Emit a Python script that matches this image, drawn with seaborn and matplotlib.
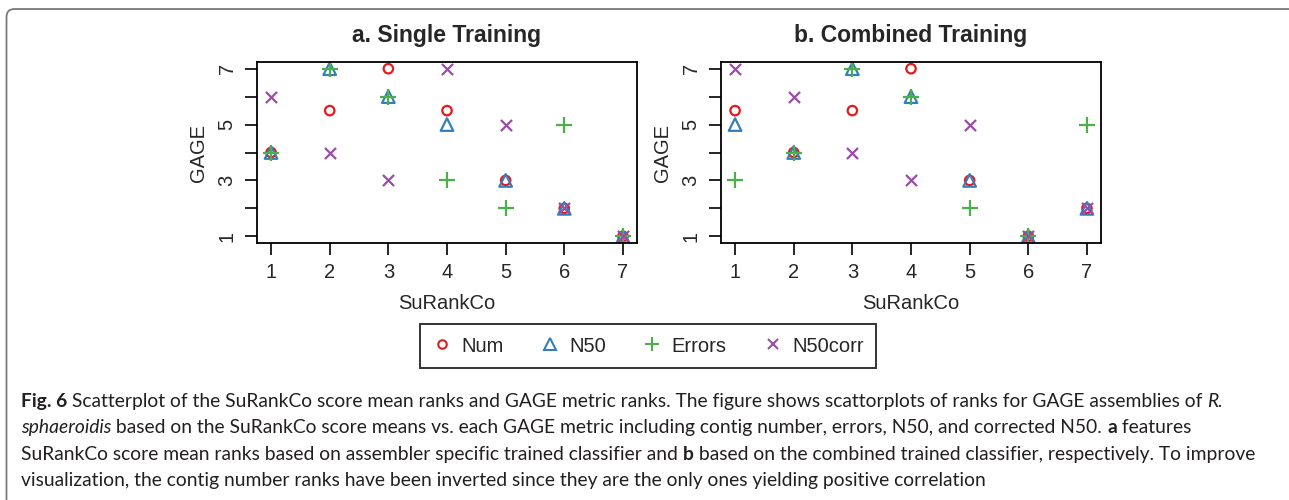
import matplotlib
matplotlib.use("Agg")
import matplotlib.pyplot as plt
import seaborn as sns
import pandas as pd
from matplotlib.patches import FancyBboxPatch

# ---------------- data ----------------
surankco = [1, 2, 3, 4, 5, 6, 7]
metrics = ["Num", "N50", "Errors", "N50corr"]

single_num = [4, 5.5, 7, 5.5, 3, 2, 1]
single_n50 = [4, 7, 6, 5, 3, 2, 1]
single_errors = [4, 7, 6, 3, 2, 5, 1]
single_n50corr = [6, 4, 3, 7, 5, 2, 1]

combined_num = [5.5, 4, 5.5, 7, 3, 1, 2]
combined_n50 = [5, 4, 7, 6, 3, 1, 2]
combined_errors = [3, 4, 7, 6, 2, 1, 5]
combined_n50corr = [7, 6, 4, 3, 5, 1, 2]

panel_titles = ["a. Single Training", "b. Combined Training"]
x_label = "SuRankCo"
y_label = "GAGE"
tick_values = [1, 2, 3, 4, 5, 6, 7]
ytick_labels = ["1", "", "3", "", "5", "", "7"]

# ---------------- style ----------------
sns.set_style("white")
plt.rcParams["font.family"] = ["Liberation Sans", "DejaVu Sans"]

colors = {"Num": "#E41A1C", "N50": "#377EB8", "Errors": "#4DAF4A", "N50corr": "#984EA3"}
markers = {"Num": "o", "N50": "^", "Errors": "+", "N50corr": "x"}
sizes = {"Num": 46, "N50": 82, "Errors": 120, "N50corr": 64}
filled = {"Num": True, "N50": True, "Errors": False, "N50corr": False}

W, H = 1289, 500
fig = plt.figure(figsize=(W / 100, H / 100), dpi=100)

# outer rounded frame
frame = FancyBboxPatch((0.065, -0.6), 13.2, 4.91 + 0.6,
                       boxstyle="round,pad=0,rounding_size=0.08",
                       transform=fig.dpi_scale_trans, fill=False,
                       edgecolor="#7a7a7a", linewidth=1.3)
fig.patches.append(frame)

def px_axes(left, right, top, bottom):
    return fig.add_axes([left / W, 1 - bottom / H, (right - left) / W, (bottom - top) / H])

panels = [
    (px_axes(257, 637, 62, 243), [single_num, single_n50, single_errors, single_n50corr]),
    (px_axes(721, 1101, 62, 243), [combined_num, combined_n50, combined_errors, combined_n50corr]),
]

fs = 14.5
for (ax, series), title in zip(panels, panel_titles):
    for name, vals in zip(metrics, series):
        df = pd.DataFrame({"SuRankCo": surankco, "GAGE": vals})
        if filled[name]:
            kw = dict(facecolor="none", edgecolor=colors[name])
        else:
            kw = dict(color=colors[name])
        sns.scatterplot(data=df, x="SuRankCo", y="GAGE", ax=ax,
                        marker=markers[name], s=sizes[name],
                        linewidth=1.6, label=name, legend=False, **kw)
    ax.set_xlim(0.76, 7.24)
    ax.set_ylim(0.76, 7.24)
    ax.set_xticks(tick_values)
    ax.set_xticklabels([str(v) for v in tick_values])
    ax.set_yticks(tick_values)
    ax.set_yticklabels(ytick_labels, rotation=90, va="center")
    ax.tick_params(bottom=True, left=True, direction="out", length=8.7,
                   width=1.2, color="black", labelsize=fs, pad=6)
    for sp in ax.spines.values():
        sp.set_visible(True)
        sp.set_color("black")
        sp.set_linewidth(1.3)
    ax.set_xlabel(x_label, fontsize=fs, labelpad=8)
    ax.set_ylabel(y_label, fontsize=fs, labelpad=7)
    pos = ax.get_position()
    fig.text(pos.x0 + pos.width / 2, 1 - 35.5 / H, title, ha="center", va="center",
             fontsize=16.5, fontweight="bold")

handles = [plt.Line2D([], [], linestyle="none", marker=markers[m],
                      markersize=(sizes[m]) ** 0.5 * 0.9, markerfacecolor="none",
                      markeredgecolor=colors[m], markeredgewidth=1.5) for m in metrics]
leg = fig.legend(handles, metrics, loc="center", bbox_to_anchor=(648 / W, 1 - 346 / H),
                 ncol=4, frameon=True, fancybox=False, edgecolor="black",
                 fontsize=fs, handlelength=1.0, handletextpad=0.45,
                 columnspacing=1.8, borderpad=0.6)
leg.get_frame().set_linewidth(1.4)

# ---------------- caption ----------------
cap_lines = [
    [("Fig. 6", "bold", "normal"),
     (" Scatterplot of the SuRankCo score mean ranks and GAGE metric ranks. The figure shows scattorplots of ranks for GAGE assemblies of ", "normal", "normal"),
     ("R.", "normal", "italic")],
    [("sphaeroidis", "normal", "italic"),
     (" based on the SuRankCo score means vs. each GAGE metric including contig number, errors, N50, and corrected N50. ", "normal", "normal"),
     ("a", "bold", "normal"),
     (" features", "normal", "normal")],
    [("SuRankCo score mean ranks based on assembler specific trained classifier and ", "normal", "normal"),
     ("b", "bold", "normal"),
     (" based on the combined trained classifier, respectively. To improve", "normal", "normal")],
    [("visualization, the contig number ranks have been inverted since they are the only ones yielding positive correlation", "normal", "normal")],
]
cap_font = "Lato"
renderer = fig.canvas.get_renderer()

# calibrate caption font size so line 3 spans the reference width
probe = fig.text(0, 0, "".join(s for s, _, _ in cap_lines[2]), fontsize=10, family=cap_font)
pw = probe.get_window_extent(renderer).width
probe.remove()
cap_fs = 10 * (1262 - 21) / pw

baselines = [407, 433.3, 459.6, 486]
for line, yb in zip(cap_lines, baselines):
    x = 21
    for txt, weight, style in line:
        t = fig.text(x / W, 1 - yb / H, txt, fontsize=cap_fs, family=cap_font,
                     fontweight=weight, fontstyle=style, color="#231f20",
                     ha="left", va="baseline")
        x += t.get_window_extent(renderer).width

fig.savefig("out.png", dpi=100)
